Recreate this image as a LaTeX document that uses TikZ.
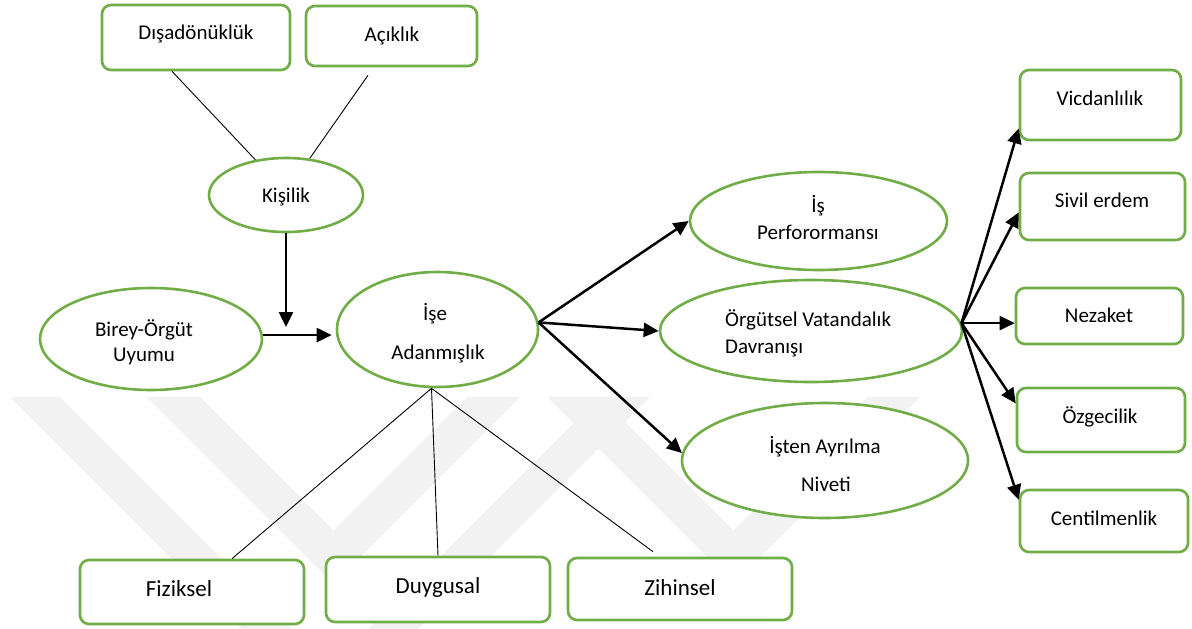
\documentclass[tikz,border=0pt]{standalone}
\usepackage{fontspec}
\setmainfont{Carlito}
\usetikzlibrary{arrows.meta,shapes.geometric}
\definecolor{leaf}{HTML}{70AD47}
\definecolor{wmgray}{HTML}{F2F2F2}
\begin{document}
\begin{tikzpicture}[x=1pt,y=-1pt,
  every node/.style={inner sep=0pt},
  oval/.style={ellipse, draw=leaf, line width=2.6pt, fill=white},
  card/.style={rectangle, rounded corners=9pt, draw=leaf, line width=2.6pt, fill=white},
  word/.style={anchor=base, font=\fontsize{21}{25}\selectfont},
  bigword/.style={anchor=base, font=\fontsize{23}{27}\selectfont},
  link/.style={line width=0.9pt},
  flow/.style={line width=2.5pt, -{Triangle[length=15pt,width=14pt]}},
]
\useasboundingbox (0,0) rectangle (1192,629);
\fill[white] (0,0) rectangle (1192,629);

% faint chevron background
\begin{scope}
  \clip (0,0) rectangle (1192,629);
  \fill[wmgray] (10,397) -- (330,717) -- (650,397) -- (600,397) -- (330,667) -- (60,397) -- cycle;
  \fill[wmgray] (147,397) -- (333.5,583.5) -- (520,397) -- (467,397) -- (333.5,530.5) -- (200,397) -- cycle;
  \fill[wmgray] (547,397) -- (733.5,583.5) -- (920,397) -- (867,397) -- (733.5,530.5) -- (600,397) -- cycle;
\end{scope}

% personality traits
\node[card, minimum width=188pt, minimum height=65pt] (dis) at (196,37.5) {};
\node[card, minimum width=171pt, minimum height=60pt] (ack) at (391.5,36) {};
\node[oval, minimum width=154pt, minimum height=74pt] (kis) at (286,195) {};

% core constructs
\node[oval, minimum width=222pt, minimum height=102pt] (bir) at (151,339) {};
\node[oval, minimum width=201pt, minimum height=115pt] (ise) at (437.5,329.5) {};

% outcomes
\node[oval, minimum width=257pt, minimum height=98pt] (ip) at (818.5,221) {};
\node[oval, minimum width=302pt, minimum height=102pt] (ovd) at (811,331) {};
\node[oval, minimum width=286pt, minimum height=115pt] (ia) at (825,460.5) {};

% citizenship dimensions
\node[card, minimum width=161pt, minimum height=70pt] (vic) at (1100.5,105) {};
\node[card, minimum width=165pt, minimum height=67pt] (siv) at (1102.5,206.5) {};
\node[card, minimum width=167pt, minimum height=56pt] (nez) at (1099.5,316) {};
\node[card, minimum width=168pt, minimum height=64pt] (ozg) at (1101,420) {};
\node[card, minimum width=168pt, minimum height=62pt] (cen) at (1104,521) {};

% engagement dimensions
\node[card, minimum width=224pt, minimum height=64pt] (fiz) at (192,592) {};
\node[card, minimum width=224pt, minimum height=65pt] (duy) at (438,589.5) {};
\node[card, minimum width=224pt, minimum height=62pt] (zih) at (680,589) {};

% labels
\node[word] (dis-l) at (196,39.3) {Dışadönüklük};
\node[word] (ack-l) at (392,41.5) {Açıklık};
\node[word] (kis-l) at (286,202) {Kişilik};
\node[word] (bir-l1) at (144,336.5) {Birey-Örgüt};
\node[word] (bir-l2) at (144,361.5) {Uyumu};
\node[word] (ise-l1) at (435,320) {İşe};
\node[word] (ise-l2) at (438,359) {Adanmışlık};
\node[word] (ip-l1) at (818,212.5) {İş};
\node[word] (ip-l2) at (818,239) {Perforormansı};
\node[word, anchor=base west] (ovd-l1) at (725,326.7) {Örgütsel Vatandalık};
\node[word, anchor=base west] (ovd-l2) at (725,353.3) {Davranışı};
\node[word] (ia-l1) at (825,453.3) {İşten Ayrılma};
\node[word] (ia-l2) at (826,491.7) {Niveti};
\node[word] (vic-l) at (1100,105.5) {Vicdanlılık};
\node[word] (siv-l) at (1102,207.3) {Sivil erdem};
\node[word] (nez-l) at (1099,322.3) {Nezaket};
\node[word] (ozg-l) at (1100,423.3) {Özgecilik};
\node[word] (cen-l) at (1104,525) {Centilmenlik};
\node[bigword] (fiz-l) at (179,596.7) {Fiziksel};
\node[bigword] (duy-l) at (438,593.3) {Duygusal};
\node[bigword] (zih-l) at (680,595) {Zihinsel};

% plain links
\draw[link] ([xshift=-24pt]dis.south) -- (kis.131);
\draw[link] ([xshift=-23.5pt,yshift=-8pt]ack.south) -- (kis.57);
\draw[link] ([xshift=-6pt]ise.south) -- ([xshift=40pt]fiz.north);
\draw[link] ([xshift=-6pt]ise.south) -- (duy.north);
\draw[link] ([xshift=-6pt]ise.south) -- ([xshift=-27pt,yshift=5pt]zih.north);

% directed paths
\coordinate (kisend) at (286,327);
\draw[flow] (kis.south) -- (kisend);
\draw[flow, shorten >=4pt] (bir.2) -- (bir.2 -| ise.west);
\draw[flow] (ise.4) -- (ip.west);
\draw[flow] (ise.4) -- (ovd.west);
\draw[flow] (ise.4) -- (ia.177);

\draw[flow] (ovd.3) -- (vic.196.3);
\draw[flow] (ovd.3) -- (siv.184);
\draw[flow] (ovd.3) -- (ovd.3 -| nez.west);
\draw[flow] (ovd.3) -- (ozg.169.8);
\draw[flow] (ovd.3) -- (cen.166);
\end{tikzpicture}
\end{document}
